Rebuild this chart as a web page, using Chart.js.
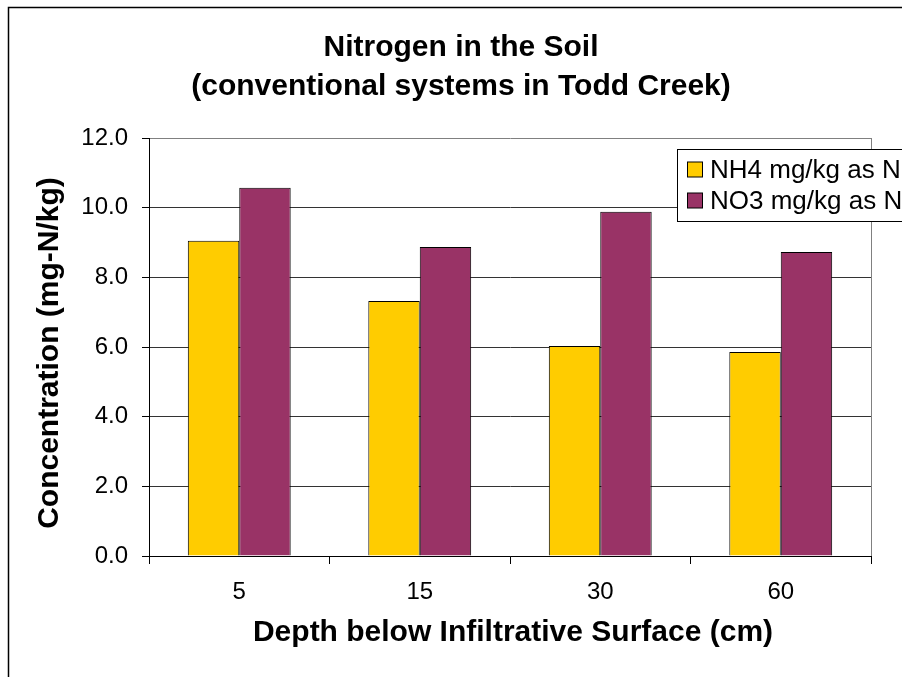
<!DOCTYPE html>
<html>
<head>
<meta charset="utf-8">
<script src="https://cdn.jsdelivr.net/npm/chart.js@4.4.0/dist/chart.umd.min.js"></script>
<style>
  html, body { margin: 0; padding: 0; background: #fff; overflow: hidden; }
  canvas { display: block; }
</style>
</head>
<body>
<canvas id="soilChart" width="902" height="677"></canvas>
<script>
// Données
const depths = ['5', '15', '30', '60'];
const nh4Values = [9.05, 7.32, 6.03, 5.86];
const no3Values = [10.57, 8.87, 9.88, 8.73];
const yTicks = [0, 2, 4, 6, 8, 10, 12];
const titleLines = ['Nitrogen in the Soil', '(conventional systems in Todd Creek)'];
const xTitle = 'Depth below Infiltrative Surface (cm)';
const yTitle = 'Concentration (mg-N/kg)';

const FONT = '"Liberation Sans", Arial, sans-serif';

// Cadre, titres et légende dessinés à la main
const decorations = {
    id: 'decorations',
    beforeDraw(chart) {
        const ctx = chart.ctx;
        ctx.save();
        ctx.fillStyle = '#fff';
        ctx.fillRect(0, 0, chart.width, chart.height);
        ctx.restore();
    },
    afterDraw(chart) {
        const ctx = chart.ctx;
        const area = chart.chartArea;
        ctx.save();

        // bord extérieur
        ctx.strokeStyle = '#000';
        ctx.lineWidth = 1.5;
        ctx.strokeRect(8.5, 7.5, 1000, 1000);

        // bord droit de la zone de tracé
        ctx.strokeStyle = '#808080';
        ctx.lineWidth = 1;
        ctx.beginPath();
        ctx.moveTo(Math.round(area.right) + 0.5, area.top);
        ctx.lineTo(Math.round(area.right) + 0.5, area.bottom);
        ctx.stroke();

        // titres
        ctx.fillStyle = '#000';
        ctx.textAlign = 'center';
        ctx.textBaseline = 'middle';
        ctx.font = 'bold 30px ' + FONT;
        ctx.fillText(titleLines[0], 461, 48);
        ctx.fillText(titleLines[1], 461, 87);
        ctx.fillText(xTitle, 513, 633);
        ctx.save();
        ctx.translate(50, 353);
        ctx.rotate(-Math.PI / 2);
        ctx.fillText(yTitle, 0, 0);
        ctx.restore();

        // légende
        const lx = 677.5, ly = 149.5;
        ctx.fillStyle = '#fff';
        ctx.fillRect(lx, ly, 300, 72);
        ctx.strokeStyle = '#000';
        ctx.lineWidth = 1;
        ctx.strokeRect(lx, ly, 300, 72);
        ctx.font = '26px ' + FONT;
        ctx.textAlign = 'left';
        chart.data.datasets.forEach((ds, i) => {
            const cy = 170 + i * 31;
            ctx.fillStyle = ds.backgroundColor;
            ctx.fillRect(687.5, cy - 8, 15, 15);
            ctx.strokeStyle = '#000';
            ctx.strokeRect(687.5, cy - 8, 15, 15);
            ctx.fillStyle = '#000';
            ctx.fillText(ds.label, 710, cy + 1);
        });

        ctx.restore();
    }
};

new Chart(document.getElementById('soilChart'), {
    type: 'bar',
    data: {
        labels: depths,
        datasets: [{
            label: 'NH4 mg/kg as N',
            data: nh4Values,
            backgroundColor: '#FFCC00',
            borderColor: '#000',
            borderWidth: 1
        }, {
            label: 'NO3 mg/kg as N',
            data: no3Values,
            backgroundColor: '#993366',
            borderColor: '#000',
            borderWidth: 1
        }]
    },
    options: {
        responsive: false,
        animation: false,
        layout: {
            padding: { top: 138, left: 0, right: 31, bottom: 61 }
        },
        datasets: {
            bar: {
                categoryPercentage: 0.57,
                barPercentage: 1.0
            }
        },
        plugins: {
            legend: { display: false },
            title: { display: false },
            tooltip: { enabled: false }
        },
        scales: {
            x: {
                afterFit: scale => { scale.height = 60; },
                grid: {
                    offset: true,
                    drawOnChartArea: false,
                    drawTicks: true,
                    tickLength: 8,
                    color: '#000'
                },
                border: { color: '#000', width: 1 },
                ticks: {
                    color: '#000',
                    padding: 14,
                    font: { family: FONT, size: 24 }
                }
            },
            y: {
                min: 0,
                max: 12,
                afterFit: scale => { scale.width = 149; },
                afterBuildTicks: scale => {
                    scale.ticks = yTicks.map(v => ({ value: v }));
                },
                grid: {
                    color: ctx => (ctx.tick && ctx.tick.value === 12) ? '#808080' : '#333',
                    tickColor: '#000',
                    tickLength: 7
                },
                border: { color: '#000', width: 1 },
                ticks: {
                    color: '#000',
                    padding: 14,
                    font: { family: FONT, size: 24 },
                    callback: v => Number(v).toFixed(1)
                }
            }
        }
    },
    plugins: [decorations]
});
</script>
</body>
</html>
